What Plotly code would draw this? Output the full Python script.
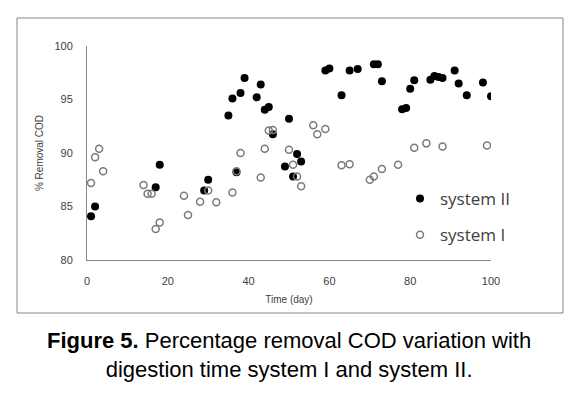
import plotly.graph_objects as go

# System II (filled markers)
days_sys2 = [1, 2, 17, 18, 29, 30, 35, 36, 37, 38, 39, 42, 43, 44, 45, 46, 49, 50, 51, 52, 53,
             59, 60, 63, 65, 67, 71, 72, 73, 78, 79, 80, 81, 85, 86, 87, 88, 91, 92, 94, 98, 100]
cod_sys2 = [84.1, 85.0, 86.8, 88.9, 86.5, 87.5, 93.5, 95.1, 88.2, 95.6, 97.0, 95.2, 96.4, 94.05,
            94.3, 91.75, 88.75, 93.2, 87.8, 89.9, 89.2, 97.7, 97.9, 95.4, 97.7, 97.85, 98.3, 98.3,
            96.7, 94.1, 94.2, 96.0, 96.8, 96.85, 97.2, 97.1, 97.0, 97.7, 96.5, 95.4, 96.6, 95.3]

# System I (open markers)
days_sys1 = [1, 2, 3, 4, 14, 15, 16, 17, 18, 24, 25, 28, 30, 32, 36, 37, 38, 43, 44, 45, 46,
             50, 51, 52, 53, 56, 57, 59, 63, 65, 70, 71, 73, 77, 81, 84, 88, 99]
cod_sys1 = [87.2, 89.6, 90.4, 88.3, 87.0, 86.2, 86.2, 82.9, 83.5, 86.0, 84.2, 85.45, 86.5, 85.4,
            86.3, 88.3, 90.0, 87.7, 90.4, 92.1, 92.15, 90.3, 88.9, 87.8, 86.9, 92.6, 91.75, 92.25,
            88.85, 88.95, 87.5, 87.8, 88.5, 88.9, 90.5, 90.9, 90.6, 90.7]

x_ticks = [0, 20, 40, 60, 80, 100]
y_ticks = [80, 85, 90, 95, 100]

fig = go.Figure()
fig.add_trace(go.Scatter(
    x=days_sys2, y=cod_sys2, mode="markers", name="system II",
    marker=dict(symbol="circle", size=8, color="black", line=dict(width=0)),
    legendgroup="a",
))
fig.add_trace(go.Scatter(
    x=days_sys1, y=cod_sys1, mode="markers", name="system I",
    marker=dict(symbol="circle-open", size=7, color="#7a7a7a", line=dict(width=1.5)),
    legendgroup="b",
))

# the page body has an 8px margin: work in page pixels and subtract it
OFF = 8
FW, FH = 580 - OFF, 394 - OFF
L, R, T, B = 87 - OFF, 491 - OFF, 46 - OFF, 260 - OFF
W, H = R - L, B - T

def px(xp):
    return (xp - OFF - L) / W

def py(yp):
    return (B - (yp - OFF)) / H

fig.update_layout(
    width=FW, height=FH,
    margin=dict(l=L, r=FW - R, t=T, b=FH - B, autoexpand=False),
    paper_bgcolor="white", plot_bgcolor="white",
    font=dict(family="Liberation Sans, Arial, sans-serif", color="#404040"),
    showlegend=True,
    legend=dict(
        x=px(400), y=py(181), xanchor="left", yanchor="top",
        font=dict(size=17, family="Open Sans, Liberation Sans, sans-serif", color="#404040"),
        tracegroupgap=11, traceorder="grouped",
        bgcolor="rgba(0,0,0,0)",
    ),
    xaxis=dict(
        range=[0, 100], tickvals=x_ticks, ticks="", showgrid=False, zeroline=False,
        showline=True, linecolor="#868686", linewidth=1,
        tickfont=dict(size=11, color="#404040"), ticklabelstandoff=11,
        title=dict(text="Time (day)", font=dict(size=10, color="#404040"), standoff=9),
    ),
    yaxis=dict(
        range=[80, 100], tickvals=y_ticks, ticks="", showgrid=False, zeroline=False,
        showline=True, linecolor="#868686", linewidth=1,
        tickfont=dict(size=11, color="#404040"), ticklabelstandoff=11,
        title=dict(text="% Removal COD", font=dict(size=10, color="#404040"), standoff=8),
    ),
    shapes=[dict(
        type="rect", xref="paper", yref="paper",
        x0=px(17), x1=px(563), y0=py(313), y1=py(18),
        line=dict(color="#868686", width=1), fillcolor="rgba(0,0,0,0)", layer="below",
    )],
    annotations=[dict(
        xref="paper", yref="paper", x=px(289), y=py(355), xanchor="center", yanchor="middle",
        text="<b>Figure 5.</b> Percentage removal COD variation with<br>digestion time system I and system II.",
        showarrow=False, align="center",
        font=dict(size=22, family="Liberation Sans, Arial, sans-serif", color="black"),
    )],
)

fig.write_html("out.html")
